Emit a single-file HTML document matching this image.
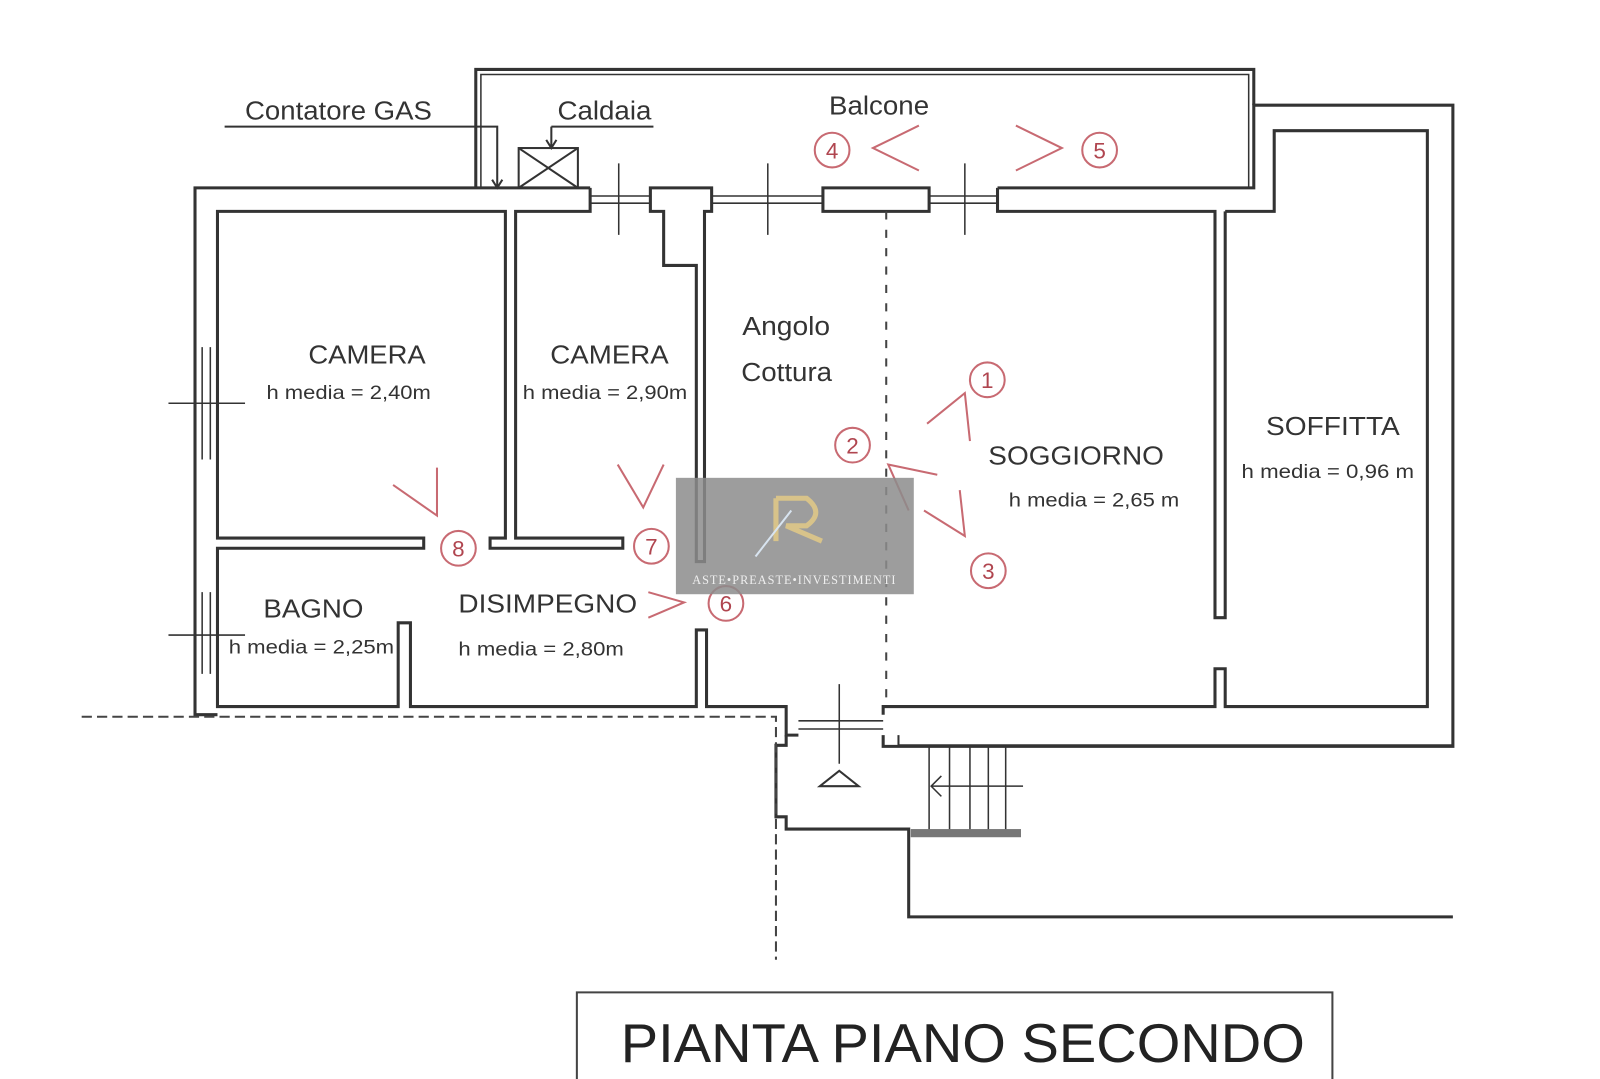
<!DOCTYPE html>
<html><head><meta charset="utf-8"><style>
html,body{margin:0;padding:0;background:#fff;}
svg{display:block;}
text{font-family:"Liberation Sans",sans-serif;fill:#333;}
</style></head><body>
<svg width="1600" height="1079" viewBox="0 0 1600 1079" xmlns="http://www.w3.org/2000/svg">
<g transform="scale(1.021)">
<g fill="none" stroke="#333" stroke-width="3">
<path d="M466 184 V68 H1228 V103" />
<path d="M471 184 V73 H1223 V184" stroke-width="1.5"/>
<path d="M578 184 H191 V700 H213"/>
<path d="M578 184 V207 H505 V527 H610 V537 H480 V527 H495 V207 H213 V527 H415 V537 H213 V692 H390 V610 H402 V692 H682 V617 H692 V692 H770 V720 H782"/>
<path d="M637 184 H697 V207 H690 V550 H682 V260 H650 V207 H637 Z"/>
<path d="M806 184 H910 V207 H806 Z"/>
<path d="M977 184 H1228 V103 H1423 V731 H865 V720"/>
<path d="M977 184 V207 H1190 V605 H1200 V207"/>
<path d="M1200 207 H1248 V128 H1398 V692 H1200 V655 H1190 V692 H865 V700"/>
<path d="M578 192 H637 M578 199 H637 M697 192 H806 M697 199 H806 M910 192 H977 M910 199 H977" stroke-width="1.5"/>
<path d="M606 160 V230 M752 160 V230 M945 160 V230" stroke-width="1.5"/>
<path d="M198 340 V450 M206 340 V450 M198 580 V660 M206 580 V660" stroke-width="1.5"/>
<path d="M165 395 H240 M165 622 H240" stroke-width="1.5"/>
<path d="M782 706 H865 M782 714 H865" stroke-width="1.5"/>
<path d="M822 670 V748" stroke-width="1.5"/>
<path d="M770 720 V730 H760 V800 H770 V812 H890 V898 H1423" />
<path d="M880 720 V730 H1423" stroke-width="2"/>
<path d="M910 730 V815 M930 730 V815 M950 730 V815 M968 730 V815 M985 730 V815" stroke-width="1.5"/>
<path d="M912 770 H1002 M922 760 L912 770 L922 780" stroke-width="1.5"/>
<rect x="892" y="812" width="108" height="8" fill="#777" stroke="none"/>
<path d="M803 770 L822 755 L841 770 Z" stroke-width="2"/>
<rect x="508" y="145" width="58" height="39" stroke-width="2"/>
<path d="M508 145 L566 184 M566 145 L508 184" stroke-width="2"/>
<path d="M220 124 H487 V184 M482 176 L487 184 L492 176 M540 124 H640 M540 124 V145 M535 137 L540 145 L545 137" stroke-width="2"/>
</g>
<g fill="none" stroke="#444" stroke-width="2" stroke-dasharray="10 5">
<path d="M80 702 H760 V940"/>
<path d="M868 207 V692" stroke-dasharray="8 10"/>
</g>
<text x="240" y="117" font-size="25" textLength="183" lengthAdjust="spacingAndGlyphs">Contatore GAS</text>
<text x="546" y="117" font-size="25" textLength="92" lengthAdjust="spacingAndGlyphs">Caldaia</text>
<text x="812" y="112" font-size="25" textLength="98" lengthAdjust="spacingAndGlyphs">Balcone</text>
<text x="302" y="356" font-size="25" textLength="115" lengthAdjust="spacingAndGlyphs">CAMERA</text>
<text x="261" y="391" font-size="19" textLength="161" lengthAdjust="spacingAndGlyphs">h media = 2,40m</text>
<text x="539" y="356" font-size="25" textLength="116" lengthAdjust="spacingAndGlyphs">CAMERA</text>
<text x="512" y="391" font-size="19" textLength="161" lengthAdjust="spacingAndGlyphs">h media = 2,90m</text>
<text x="727" y="328" font-size="25" textLength="86" lengthAdjust="spacingAndGlyphs">Angolo</text>
<text x="726" y="373" font-size="25" textLength="89" lengthAdjust="spacingAndGlyphs">Cottura</text>
<text x="968" y="455" font-size="25" textLength="172" lengthAdjust="spacingAndGlyphs">SOGGIORNO</text>
<text x="988" y="496" font-size="19" textLength="167" lengthAdjust="spacingAndGlyphs">h media = 2,65 m</text>
<text x="1240" y="426" font-size="25" textLength="131" lengthAdjust="spacingAndGlyphs">SOFFITTA</text>
<text x="1216" y="468" font-size="19" textLength="169" lengthAdjust="spacingAndGlyphs">h media = 0,96 m</text>
<text x="258" y="605" font-size="25" textLength="98" lengthAdjust="spacingAndGlyphs">BAGNO</text>
<text x="224" y="640" font-size="19" textLength="162" lengthAdjust="spacingAndGlyphs">h media = 2,25m</text>
<text x="449" y="600" font-size="25" textLength="175" lengthAdjust="spacingAndGlyphs">DISIMPEGNO</text>
<text x="449" y="642" font-size="19" textLength="162" lengthAdjust="spacingAndGlyphs">h media = 2,80m</text>
<g fill="none" stroke="#c86a72" stroke-width="2">
<circle cx="815" cy="147" r="17"/><circle cx="1077" cy="147" r="17"/>
<circle cx="967" cy="372" r="17"/><circle cx="835" cy="436" r="17"/>
<circle cx="968" cy="559" r="17"/><circle cx="711" cy="591" r="17"/>
<circle cx="638" cy="535" r="17"/><circle cx="449" cy="537" r="17"/>
<path d="M900 123 L855 145 L900 167 M995 123 L1040 145 L995 167"/>
<path d="M908 415 L945 385 L950 432 M918 465 L870 455 L890 500 M905 500 L945 525 L940 480"/>
<path d="M635 580 L670 590 L635 605 M605 455 L630 497 L650 455 M385 475 L428 505 L428 458"/>
</g>
<g font-size="22" text-anchor="middle">
<text x="815" y="155" style="fill:#b0454f">4</text><text x="1077" y="155" style="fill:#b0454f">5</text>
<text x="967" y="380" style="fill:#b0454f">1</text><text x="835" y="444" style="fill:#b0454f">2</text>
<text x="968" y="567" style="fill:#b0454f">3</text><text x="711" y="599" style="fill:#b0454f">6</text>
<text x="638" y="543" style="fill:#b0454f">7</text><text x="449" y="545" style="fill:#b0454f">8</text>
</g>
<rect x="662" y="468" width="233" height="114" fill="#8c8c8c" opacity="0.85"/>
<path d="M760 488 V530 M760 488 H790 Q808 502 790 515 H770 L805 530" fill="none" stroke="#d8c38a" stroke-width="5"/>
<path d="M740 545 L775 500" fill="none" stroke="#d8e4f0" stroke-width="2"/>
<text x="778" y="572" font-size="12" text-anchor="middle" style="font-family:'Liberation Serif',serif;fill:#eee;letter-spacing:1px">ASTE•PREASTE•INVESTIMENTI</text>
<path d="M565 1070 V972 H1305 V1070" fill="none" stroke="#444" stroke-width="2"/>
<text x="608" y="1040" font-size="54" textLength="670" lengthAdjust="spacingAndGlyphs" style="fill:#222">PIANTA PIANO SECONDO</text>
</g>
</svg>
</body></html>
